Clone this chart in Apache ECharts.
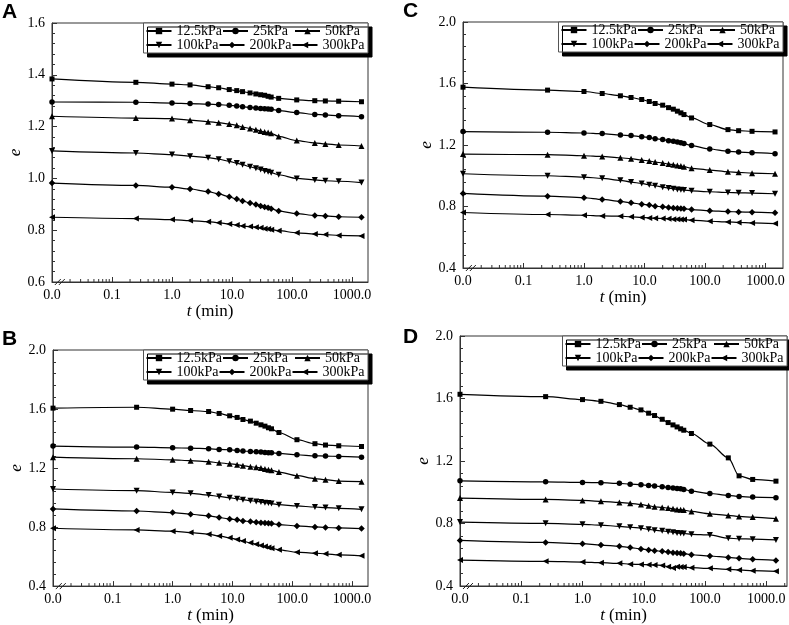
<!DOCTYPE html>
<html><head><meta charset="utf-8">
<script src="https://cdn.jsdelivr.net/npm/echarts@6/dist/echarts.min.js"></script>
<style>html,body{margin:0;padding:0;background:#fff}#c{width:789px;height:625px}</style>
</head><body><div id="c"></div>
<script>
// consolidation times (min); t = 0 is drawn at the "0.0" break position of the log axis
const times = [0, 0.25, 1, 2, 4, 6, 9, 12, 15, 20, 25, 30, 35, 40, 45, 60, 120, 240, 360, 600, 1440];
const seriesNames = ['12.5kPa', '25kPa', '50kPa', '100kPa', '200kPa', '300kPa'];

// Panel A
const a125 = [1.384,1.371,1.364,1.361,1.354,1.350,1.343,1.339,1.335,1.330,1.326,1.323,1.321,1.317,1.314,1.309,1.303,1.300,1.299,1.298,1.296];
const a25  = [1.295,1.294,1.291,1.289,1.287,1.285,1.282,1.280,1.277,1.274,1.272,1.270,1.269,1.268,1.267,1.262,1.254,1.247,1.245,1.242,1.238];
const a50  = [1.240,1.233,1.231,1.225,1.219,1.215,1.210,1.205,1.198,1.193,1.188,1.183,1.179,1.177,1.174,1.162,1.146,1.137,1.133,1.129,1.125];
const a100 = [1.106,1.098,1.092,1.086,1.080,1.074,1.066,1.059,1.053,1.045,1.039,1.034,1.029,1.026,1.022,1.014,1.000,0.994,0.991,0.989,0.984];
const a200 = [0.982,0.973,0.966,0.959,0.949,0.940,0.929,0.920,0.913,0.905,0.899,0.893,0.890,0.887,0.883,0.874,0.864,0.857,0.855,0.852,0.850];
const a300 = [0.850,0.845,0.841,0.837,0.833,0.829,0.824,0.820,0.816,0.814,0.811,0.809,0.806,0.805,0.802,0.798,0.790,0.785,0.783,0.780,0.778];
// Panel B
const b125 = [1.606,1.612,1.599,1.590,1.583,1.570,1.554,1.543,1.529,1.518,1.504,1.493,1.484,1.473,1.466,1.441,1.392,1.365,1.356,1.351,1.346];
const b25  = [1.349,1.342,1.337,1.335,1.331,1.326,1.324,1.319,1.315,1.313,1.310,1.308,1.306,1.304,1.304,1.299,1.290,1.283,1.281,1.279,1.274];
const b50  = [1.274,1.263,1.256,1.250,1.243,1.236,1.229,1.223,1.216,1.209,1.205,1.200,1.193,1.189,1.185,1.173,1.148,1.128,1.121,1.112,1.108];
const b100 = [1.058,1.047,1.035,1.029,1.017,1.008,0.999,0.992,0.986,0.979,0.974,0.970,0.965,0.963,0.959,0.952,0.943,0.936,0.932,0.927,0.920];
const b200 = [0.923,0.909,0.898,0.887,0.876,0.865,0.855,0.849,0.842,0.837,0.833,0.830,0.828,0.826,0.824,0.817,0.808,0.801,0.797,0.794,0.790];
const b300 = [0.792,0.781,0.772,0.763,0.752,0.740,0.727,0.716,0.705,0.693,0.684,0.675,0.668,0.661,0.657,0.646,0.630,0.623,0.619,0.612,0.605];
// Panel C
const c125 = [1.576,1.557,1.548,1.535,1.520,1.509,1.496,1.483,1.470,1.459,1.443,1.433,1.420,1.409,1.398,1.376,1.333,1.300,1.293,1.289,1.285];
const c25  = [1.287,1.283,1.278,1.274,1.265,1.261,1.254,1.248,1.241,1.235,1.228,1.224,1.220,1.215,1.209,1.196,1.174,1.159,1.154,1.150,1.143];
const c50  = [1.141,1.137,1.130,1.126,1.117,1.111,1.102,1.096,1.089,1.083,1.076,1.072,1.067,1.063,1.059,1.048,1.037,1.026,1.022,1.017,1.013];
const c100 = [1.013,1.000,0.991,0.983,0.970,0.959,0.950,0.941,0.935,0.926,0.920,0.915,0.911,0.909,0.907,0.902,0.896,0.891,0.889,0.887,0.883];
const c200 = [0.885,0.867,0.857,0.846,0.833,0.824,0.815,0.809,0.802,0.798,0.793,0.791,0.789,0.787,0.785,0.780,0.772,0.767,0.765,0.763,0.759];
const c300 = [0.761,0.748,0.743,0.739,0.737,0.733,0.728,0.726,0.724,0.722,0.720,0.717,0.717,0.715,0.715,0.711,0.704,0.700,0.696,0.693,0.689];
// Panel D
const d125 = [1.627,1.612,1.593,1.582,1.561,1.544,1.527,1.506,1.491,1.467,1.446,1.431,1.418,1.406,1.397,1.376,1.308,1.220,1.105,1.082,1.071];
const d25  = [1.073,1.067,1.063,1.061,1.057,1.052,1.048,1.044,1.040,1.035,1.031,1.027,1.024,1.022,1.018,1.007,0.992,0.980,0.973,0.969,0.965];
const d50  = [0.963,0.954,0.948,0.942,0.935,0.929,0.922,0.914,0.907,0.903,0.899,0.894,0.890,0.888,0.886,0.877,0.862,0.852,0.845,0.841,0.831];
const d100 = [0.809,0.801,0.795,0.789,0.782,0.776,0.770,0.763,0.757,0.753,0.748,0.744,0.740,0.738,0.736,0.731,0.727,0.706,0.702,0.700,0.695];
const d200 = [0.692,0.679,0.671,0.662,0.654,0.646,0.637,0.631,0.626,0.622,0.617,0.613,0.611,0.609,0.607,0.600,0.592,0.583,0.577,0.571,0.564];
const d300 = [0.566,0.558,0.553,0.549,0.545,0.540,0.538,0.536,0.534,0.532,0.524,0.515,0.524,0.521,0.521,0.517,0.513,0.507,0.503,0.498,0.494];

// axis tick labels
const xTickValues = [0.01, 0.1, 1, 10, 100, 1000];
const xTickLabels = ['0.0', '0.1', '1.0', '10.0', '100.0', '1000.0'];
const minorMultipliers = [2, 3, 4, 5, 6, 7, 8, 9];

const ZERO_POS = 0.01;      // where t = 0 sits on the log axis
const BREAK_POS = 0.0135;   // the "//" axis-break mark

const symbols = ['rect', 'circle', 'triangle', 'triangle', 'diamond', 'triangle'];
const symbolRotates = [0, 0, 0, 180, 0, 90];
const symbolSizes = [5, 5.5, 6, 6, 6.5, 6];

const panels = [
  {label: 'A', lx: 2, ly: 2, grid: {left: 52, top: 23, width: 316, height: 259}, yMin: 0.6, yMax: 1.6, yInt: 0.2, xMax: 1850, data: [a125, a25, a50, a100, a200, a300]},
  {label: 'C', lx: 403, ly: 1, grid: {left: 463, top: 22, width: 320, height: 246}, yMin: 0.4, yMax: 2.0, yInt: 0.4, xMax: 1950, data: [c125, c25, c50, c100, c200, c300]},
  {label: 'B', lx: 2, ly: 329, grid: {left: 53, top: 350, width: 315, height: 237}, yMin: 0.4, yMax: 2.0, yInt: 0.4, xMax: 1850, data: [b125, b25, b50, b100, b200, b300]},
  {label: 'D', lx: 403, ly: 327, grid: {left: 460, top: 336, width: 327, height: 250}, yMin: 0.4, yMax: 2.0, yInt: 0.4, xMax: 2180, data: [d125, d25, d50, d100, d200, d300]}
];

const SERIF = "'Liberation Serif', 'Times New Roman', serif";
const W = 789;
const option = {animation: false, backgroundColor: '#fff', title: [], grid: [], xAxis: [], yAxis: [], legend: [], series: []};

panels.forEach((p, i) => {
  option.title.push({text: p.label, left: p.lx, top: p.ly, padding: 0,
    textStyle: {fontFamily: "'Liberation Sans', Arial, sans-serif", fontWeight: 'bold', fontSize: 21, color: '#000'}});
  option.grid.push(Object.assign({show: true, borderColor: '#333', borderWidth: 1, backgroundColor: 'transparent'}, p.grid));
  option.xAxis.push({
    type: 'log', logBase: 10, gridIndex: i, min: ZERO_POS, max: p.xMax,
    name: '{i|t} (min)', nameLocation: 'middle', nameGap: 20,
    nameTextStyle: {fontFamily: SERIF, fontSize: 17, color: '#000', rich: {i: {fontFamily: SERIF, fontStyle: 'italic', fontSize: 17, color: '#000'}}},
    axisLine: {lineStyle: {color: '#333', width: 1}},
    axisTick: {inside: true, length: 5, lineStyle: {color: '#333'}},
    minorTick: {show: false}, splitLine: {show: false},
    axisLabel: {fontFamily: SERIF, fontSize: 14, color: '#000', margin: 6, showMaxLabel: false,
      formatter: v => { const k = xTickValues.findIndex(t => Math.abs(Math.log10(t) - Math.log10(v)) < 0.01); return k >= 0 ? xTickLabels[k] : ''; }}
  });
  option.yAxis.push({
    type: 'value', gridIndex: i, min: p.yMin, max: p.yMax, interval: p.yInt,
    name: 'e', nameLocation: 'middle', nameGap: 26,
    nameTextStyle: {fontFamily: SERIF, fontStyle: 'italic', fontSize: 17, color: '#000'},
    axisLine: {show: true, lineStyle: {color: '#333', width: 1}},
    axisTick: {inside: true, length: 5, lineStyle: {color: '#333'}},
    minorTick: {show: true, splitNumber: 5, length: 3, lineStyle: {color: '#333'}},
    splitLine: {show: false},
    axisLabel: {fontFamily: SERIF, fontSize: 14, color: '#000', margin: 7, formatter: v => v.toFixed(1)}
  });
  const gridRight = p.grid.left + p.grid.width;
  option.legend.push({
    data: seriesNames, right: W - gridRight, top: p.grid.top, width: 232,
    orient: 'horizontal', itemWidth: 25, itemHeight: 8, itemGap: 0,
    padding: [1, 2, 1, 2], backgroundColor: '#fff', borderColor: '#555', borderWidth: 1,
    shadowColor: '#000', shadowBlur: 0, shadowOffsetX: 4, shadowOffsetY: 4,
    textStyle: {fontFamily: SERIF, fontSize: 14, color: '#000', width: 41, lineHeight: 14},
    selectedMode: false
  });
  p.data.forEach((vals, s) => {
    option.series.push({
      type: 'line', name: seriesNames[s], xAxisIndex: i, yAxisIndex: i,
      data: times.map((t, k) => [t === 0 ? ZERO_POS : t, vals[k]]),
      symbol: symbols[s], symbolRotate: symbolRotates[s], symbolSize: symbolSizes[s],
      smooth: 0.3, smoothMonotone: 'x',
      lineStyle: {color: '#000', width: 1.2}, itemStyle: {color: '#000'},
      z: 3
    });
  });
  // logarithmic minor ticks on the time axis
  const minorVals = [];
  xTickValues.forEach(dec => minorMultipliers.forEach(m => { if (dec * m < p.xMax) minorVals.push([dec * m, p.yMin]); }));
  option.series.push({
    type: 'custom', name: 'minor' + i, xAxisIndex: i, yAxisIndex: i, silent: true, clip: false, z: 2,
    data: minorVals,
    renderItem: (params, api) => {
      const c = api.coord([api.value(0), api.value(1)]);
      return {type: 'line', shape: {x1: c[0], y1: c[1], x2: c[0], y2: c[1] - 3}, style: {stroke: '#333', lineWidth: 1}};
    }
  });
  // axis-break mark "//"
  option.series.push({
    type: 'custom', name: 'break' + i, xAxisIndex: i, yAxisIndex: i, silent: true, clip: false, z: 4,
    data: [[BREAK_POS, p.yMin]],
    renderItem: (params, api) => {
      const c = api.coord([api.value(0), api.value(1)]);
      return {type: 'group', children: [-2, 2].map(dx => ({
        type: 'line', shape: {x1: c[0] + dx - 3, y1: c[1] + 3, x2: c[0] + dx + 3, y2: c[1] - 3},
        style: {stroke: '#222', lineWidth: 1}}))};
    }
  });
});

const chart = echarts.init(document.getElementById('c'), null, {renderer: 'canvas'});
chart.setOption(option);
</script>
</body></html>
